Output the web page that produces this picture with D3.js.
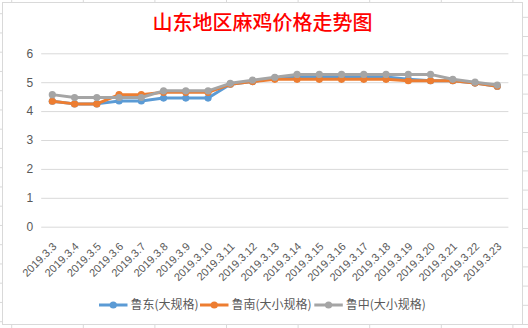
<!DOCTYPE html>
<html><head><meta charset="utf-8">
<script src="https://cdn.jsdelivr.net/npm/d3@7/dist/d3.min.js"></script>
<style>
html,body{margin:0;padding:0;background:#fff;}
svg{display:block;}
</style></head>
<body><svg id="c" width="528" height="328"></svg>
<script>
const title = "山东地区麻鸡价格走势图";
const categories = ["2019.3.3","2019.3.4","2019.3.5","2019.3.6","2019.3.7","2019.3.8","2019.3.9","2019.3.10","2019.3.11","2019.3.12","2019.3.13","2019.3.14","2019.3.15","2019.3.16","2019.3.17","2019.3.18","2019.3.19","2019.3.20","2019.3.21","2019.3.22","2019.3.23"];
const seriesNames = ["鲁东(大规格)","鲁南(大小规格)","鲁中(大小规格)"];
const ludong   = [4.34,4.25,4.25,4.35,4.35,4.45,4.45,4.45,4.93,5.02,5.15,5.18,5.18,5.18,5.18,5.18,5.10,5.05,5.05,4.97,4.86];
const lunan    = [4.34,4.25,4.25,4.57,4.57,4.65,4.65,4.65,4.93,5.02,5.10,5.10,5.10,5.10,5.10,5.10,5.05,5.05,5.05,4.97,4.86];
const luzhong  = [4.57,4.47,4.47,4.47,4.47,4.70,4.70,4.70,4.96,5.07,5.17,5.27,5.27,5.27,5.27,5.27,5.27,5.27,5.10,5.00,4.90];
const yTicks = [0,1,2,3,4,5,6];

const colors = ["#5B9BD5","#ED7D31","#A5A5A5"];
const seriesData = [ludong, lunan, luzhong];

const svg = d3.select("#c");
const W = 528, H = 328;
const box = {l:2.5, t:2.5, r:522.5, b:324.5};
const plot = {l:41.2, r:508.4, t:53.3, b:226.7};
const gridColor = "#d9d9d9";
const textColor = "#595959";

// surrounding spreadsheet cell lines (decoration outside the chart box)
const deco = svg.append("g").attr("stroke", gridColor).attr("stroke-width",1);
d3.range(-0.3, H, 19.25).forEach(y => {
  deco.append("line").attr("x1",0).attr("x2",box.l).attr("y1",y+245-19.25*13).attr("y2",y+245-19.25*13);
});
d3.range(17.3, H, 19.2).forEach(y => {
  deco.append("line").attr("x1",box.r).attr("x2",W).attr("y1",y).attr("y2",y);
});
d3.range(11.7, W, 71.6).forEach(x => {
  deco.append("line").attr("x1",x).attr("x2",x).attr("y1",0).attr("y2",box.t);
  deco.append("line").attr("x1",x).attr("x2",x).attr("y1",box.b).attr("y2",H);
});

// chart area
svg.append("rect").attr("x",box.l).attr("y",box.t).attr("width",box.r-box.l).attr("height",box.b-box.t)
  .attr("fill","#fff").attr("stroke",gridColor).attr("stroke-width",1);

// title
svg.append("text").attr("x",(box.l+box.r)/2).attr("y",29.5).attr("text-anchor","middle")
  .attr("font-family","'Noto Sans CJK SC', sans-serif").attr("font-size",20).attr("font-weight",500)
  .attr("fill","#FF0000").text(title);

const x = d3.scaleBand().domain(categories).range([plot.l, plot.r]).padding(0);
const cx = d => x(d) + x.bandwidth()/2;
const y = d3.scaleLinear().domain([0,6]).range([plot.b, plot.t]);

// y axis + gridlines
const yAxis = svg.append("g").attr("transform",`translate(${plot.l},0)`)
  .call(d3.axisLeft(y).tickValues(yTicks).tickFormat(d3.format("d")).tickSize(-(plot.r-plot.l)).tickPadding(8));
yAxis.select(".domain").remove();
yAxis.selectAll(".tick line").attr("stroke",gridColor).attr("stroke-width",1);
yAxis.selectAll(".tick text").attr("fill",textColor).attr("font-size",12)
  .attr("font-family","'Liberation Sans', Arial, sans-serif");

// x axis labels rotated
const xAxis = svg.append("g").attr("transform",`translate(0,${plot.b})`)
  .call(d3.axisBottom(x).tickSize(0).tickPadding(0));
xAxis.select(".domain").remove();
xAxis.selectAll(".tick line").remove();
xAxis.selectAll(".tick text")
  .attr("fill",textColor).attr("font-size",11).attr("font-family","'Liberation Sans', Arial, sans-serif")
  .attr("text-anchor","end").attr("dy",null).attr("y",null)
  .attr("transform","translate(5,20.5) rotate(-45)");

// series
const line = d3.line().x((d,i)=>cx(categories[i])).y(d=>y(d));
seriesData.forEach((vals,si) => {
  const g = svg.append("g");
  g.append("path").datum(vals).attr("d",line).attr("fill","none")
    .attr("stroke",colors[si]).attr("stroke-width",3).attr("stroke-linejoin","round").attr("stroke-linecap","round");
  g.selectAll("circle").data(vals).join("circle")
    .attr("cx",(d,i)=>cx(categories[i])).attr("cy",d=>y(d)).attr("r",3.6).attr("fill",colors[si]);
});

// legend
const legendY = 305;
const legendX = [99, 200, 314.3];
seriesNames.forEach((name,i) => {
  const g = svg.append("g").attr("transform",`translate(${legendX[i]},${legendY})`);
  g.append("line").attr("x1",0).attr("x2",28.5).attr("y1",0).attr("y2",0)
    .attr("stroke",colors[i]).attr("stroke-width",3);
  g.append("circle").attr("cx",14.25).attr("cy",0).attr("r",3.6).attr("fill",colors[i]);
  g.append("text").attr("x",31.5).attr("y",4.3).attr("fill",textColor).attr("font-size",12)
    .attr("font-family","'Noto Sans CJK SC', sans-serif").text(name);
});
</script>
</body></html>
